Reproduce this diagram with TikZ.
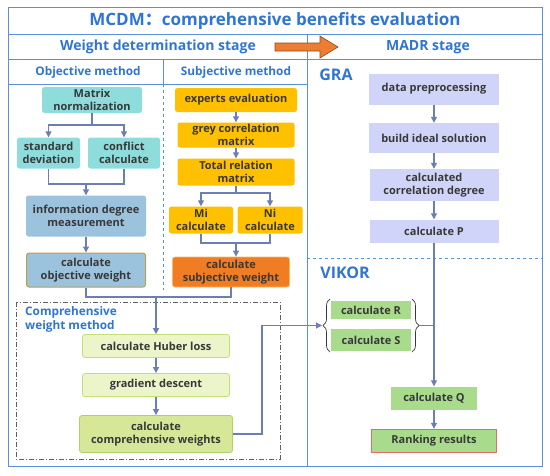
\documentclass[tikz,border=0pt]{standalone}
\usepackage{fontspec}
\setmainfont{Open Sans}
\newfontfamily\cjk{Noto Sans CJK SC}
\usetikzlibrary{arrows.meta,decorations.pathreplacing}
\definecolor{headblue}{RGB}{46,117,214}
\definecolor{frameblue}{RGB}{90,145,220}
\definecolor{connblue}{RGB}{108,126,184}
\definecolor{textgray}{RGB}{56,56,56}
\definecolor{tealbox}{RGB}{142,220,220}
\definecolor{steelbox}{RGB}{156,195,222}
\definecolor{goldline}{RGB}{188,160,72}
\definecolor{ambox}{RGB}{255,192,0}
\definecolor{orangebox}{RGB}{240,124,36}
\definecolor{orangeline}{RGB}{250,186,96}
\definecolor{lavbox}{RGB}{208,212,248}
\definecolor{greenbox}{RGB}{168,220,140}
\definecolor{redline}{RGB}{230,108,108}
\definecolor{palebox}{RGB}{236,245,202}
\definecolor{paleline}{RGB}{196,222,120}
\definecolor{limebox}{RGB}{214,232,152}
\definecolor{limeline}{RGB}{176,208,108}
\definecolor{bigorange}{RGB}{237,125,49}
\tikzstyle{frame}=[draw=frameblue, line width=1pt]
\tikzstyle{box}=[
    inner sep=0pt,
    align=center,
    text=textgray,
    font=\fontsize{11}{13.5}\selectfont\bfseries,
]
\tikzstyle{rbox}=[box, rounded corners=2.5pt]
\tikzstyle{heading}=[text=headblue, font=\fontsize{11.8}{13.5}\selectfont\bfseries]
\tikzstyle{line}=[draw=connblue, line width=1.2pt]
\tikzstyle{conn}=[line, -{Triangle[length=6pt,width=6pt]}]
\tikzstyle{curly}=[draw=textgray, line width=0.7pt, decorate,
    decoration={brace, amplitude=7pt}]

\begin{document}
\begin{tikzpicture}[x=1pt,y=-1pt]
        \useasboundingbox (0,0) rectangle (550,475);
        % grid of the frame
        \draw[frame] (8,7) rectangle (542,466);
        \draw[frame] (8,34) -- (542,34);
        \draw[frame] (8,59) -- (542,59);
        \draw[frame] (8,84) -- (307,84);
        \draw[frame] (307,34) -- (307,466);
        \draw[frame] (163,59) -- (163,84);
        \draw[frame, line width=0.7pt, dashed] (163,84) -- (163,290);
        \draw[frame, line width=0.7pt, dashed] (307,258) -- (542,258);
        \draw[draw=textgray!80, line width=0.8pt,
            dash pattern=on 5pt off 2pt on 1pt off 2pt] (16,302) rectangle (280,459);
        \draw[fill=bigorange, draw=bigorange!60!black, line width=0.6pt]
            (275,43) -- (320,43) -- (320,36) -- (338,47) -- (320,58) -- (320,51) -- (275,51) -- cycle;

        % headings
        \node (title) at (275,21) [text=headblue, font=\fontsize{17}{20}\selectfont\bfseries]
            {MCDM{\cjk ：}comprehensive benefits evaluation};
        \node (weightstage) at (158,47) [heading, font=\fontsize{14}{16}\selectfont\bfseries] {Weight determination stage};
        \node (madrstage) at (428,47) [heading, font=\fontsize{14}{16}\selectfont\bfseries] {MADR stage};
        \node (objhead) at (88,72) [heading] {Objective method};
        \node (subjhead) at (236,72) [heading] {Subjective method};
        \node (gralabel) at (336,75) [heading, font=\fontsize{16}{18}\selectfont\bfseries] {GRA};
        \node (vikorlabel) at (345,273) [heading, font=\fontsize{16}{18}\selectfont\bfseries] {VIKOR};
        \node (complabel) at (24,319.5) [heading, anchor=west, align=left, inner sep=1pt]
            {Comprehensive\\weight method};

        % objective method
        \node (matnorm) at (92,100) [rbox, fill=tealbox, minimum width=100, minimum height=26] {Matrix\\normalization};
        \node (stddev) at (48.5,153) [rbox, fill=tealbox, minimum width=63, minimum height=31] {standard\\deviation};
        \node (conflict) at (124,153) [rbox, fill=tealbox, minimum width=72, minimum height=31] {conflict\\calculate};
        \node (infodeg) at (86,216) [rbox, fill=steelbox, minimum width=120, minimum height=41] {information degree\\measurement};
        \node (objw) at (86,270) [rbox, fill=steelbox, draw=goldline, line width=1pt, minimum width=119, minimum height=34] {calculate\\objective weight};

        % subjective method
        \node (experts) at (236,100) [rbox, fill=ambox, minimum width=122, minimum height=24] {experts evaluation};
        \node (grey) at (236,135) [rbox, fill=ambox, minimum width=117, minimum height=25] {grey correlation\\matrix};
        \node (total) at (236,172) [rbox, fill=ambox, minimum width=117, minimum height=27] {Total relation\\matrix};
        \node (mi) at (201,220) [rbox, fill=ambox, minimum width=64, minimum height=27] {Mi\\calculate};
        \node (ni) at (270,220) [rbox, fill=ambox, minimum width=65, minimum height=27] {Ni\\calculate};
        \node (subjw) at (231,272) [rbox, fill=orangebox, draw=orangeline, line width=0.8pt, minimum width=117, minimum height=30] {calculate\\subjective weight};

        % comprehensive weight method
        \node (huber) at (156,346) [rbox, fill=palebox, draw=paleline, line width=0.8pt, minimum width=147, minimum height=23] {calculate Huber loss};
        \node (grad) at (156,385) [rbox, fill=palebox, draw=paleline, line width=0.8pt, minimum width=147, minimum height=23] {gradient descent};
        \node (compw) at (156,434) [rbox, fill=limebox, draw=limeline, line width=0.8pt, minimum width=153, minimum height=37] {calculate\\comprehensive weights};

        % GRA
        \node (datapre) at (434,89) [box, fill=lavbox, minimum width=130, minimum height=31] {data preprocessing};
        \node (ideal) at (434,138) [box, fill=lavbox, minimum width=130, minimum height=30] {build ideal solution};
        \node (corr) at (434,185) [box, fill=lavbox, minimum width=129, minimum height=32] {calculated\\correlation degree};
        \node (calcP) at (434,231) [box, fill=lavbox, minimum width=129, minimum height=23] {calculate P};

        % VIKOR
        \node (calcR) at (371,310) [box, fill=greenbox, minimum width=80, minimum height=18] {calculate R};
        \node (calcS) at (371,340) [box, fill=greenbox, minimum width=80, minimum height=22] {calculate S};
        \node (calcQ) at (434,398) [box, fill=greenbox, minimum width=86, minimum height=23] {calculate Q};
        \node (rank) at (434,441) [box, fill=greenbox, draw=redline, line width=1.4pt, minimum width=125, minimum height=23] {Ranking results};
        \draw[curly] (330,352) -- (330,299);
        \draw[curly] (412,299) -- (412,352);
        \coordinate (braceL) at (322,325.5);
        \coordinate (braceR) at (419,325.5);

        % connectors
        \coordinate (objsplit) at (92,125);
        \coordinate (objmerge) at (86,184);
        \coordinate (subjsplit) at (236,193);
        \coordinate (subjmerge) at (236,243);
        \coordinate (wmerge) at (156,297);
        \draw[line] (matnorm.south) -- (objsplit);
        \draw[conn] (objsplit) -| (stddev.north);
        \draw[conn] (objsplit) -| (conflict.north);
        \draw[line] (stddev.south) |- (objmerge) -| (conflict.south);
        \draw[conn] (objmerge) -- (infodeg.north);
        \draw[conn] (infodeg) -- (objw);
        \draw[conn] (experts) -- (grey);
        \draw[conn] (grey) -- (total);
        \draw[line] (total.south) -- (subjsplit);
        \draw[conn] (subjsplit) -| (mi.north);
        \draw[conn] (subjsplit) -| (ni.north);
        \draw[line] (mi.south) |- (subjmerge) -| (ni.south);
        \draw[conn] (subjmerge) -- (subjw.north -| subjmerge);
        \draw[line] (objw.south) |- (wmerge) -| (subjw.south);
        \draw[conn, line width=1.6pt] (wmerge) -- (huber.north);
        \draw[conn] (huber) -- (grad);
        \draw[conn] (grad) -- (compw);
        \draw[conn] (compw.east) -- ++(29,0) |- (braceL);
        \draw[conn] (datapre) -- (ideal);
        \draw[conn] (ideal) -- (corr);
        \draw[conn] (corr) -- (calcP);
        \draw[conn] (calcP) -- (calcQ);
        \draw[line] (braceR) -- (calcP.south |- braceR);
        \draw[conn] (calcQ) -- (rank);
    \end{tikzpicture}
\end{document}
